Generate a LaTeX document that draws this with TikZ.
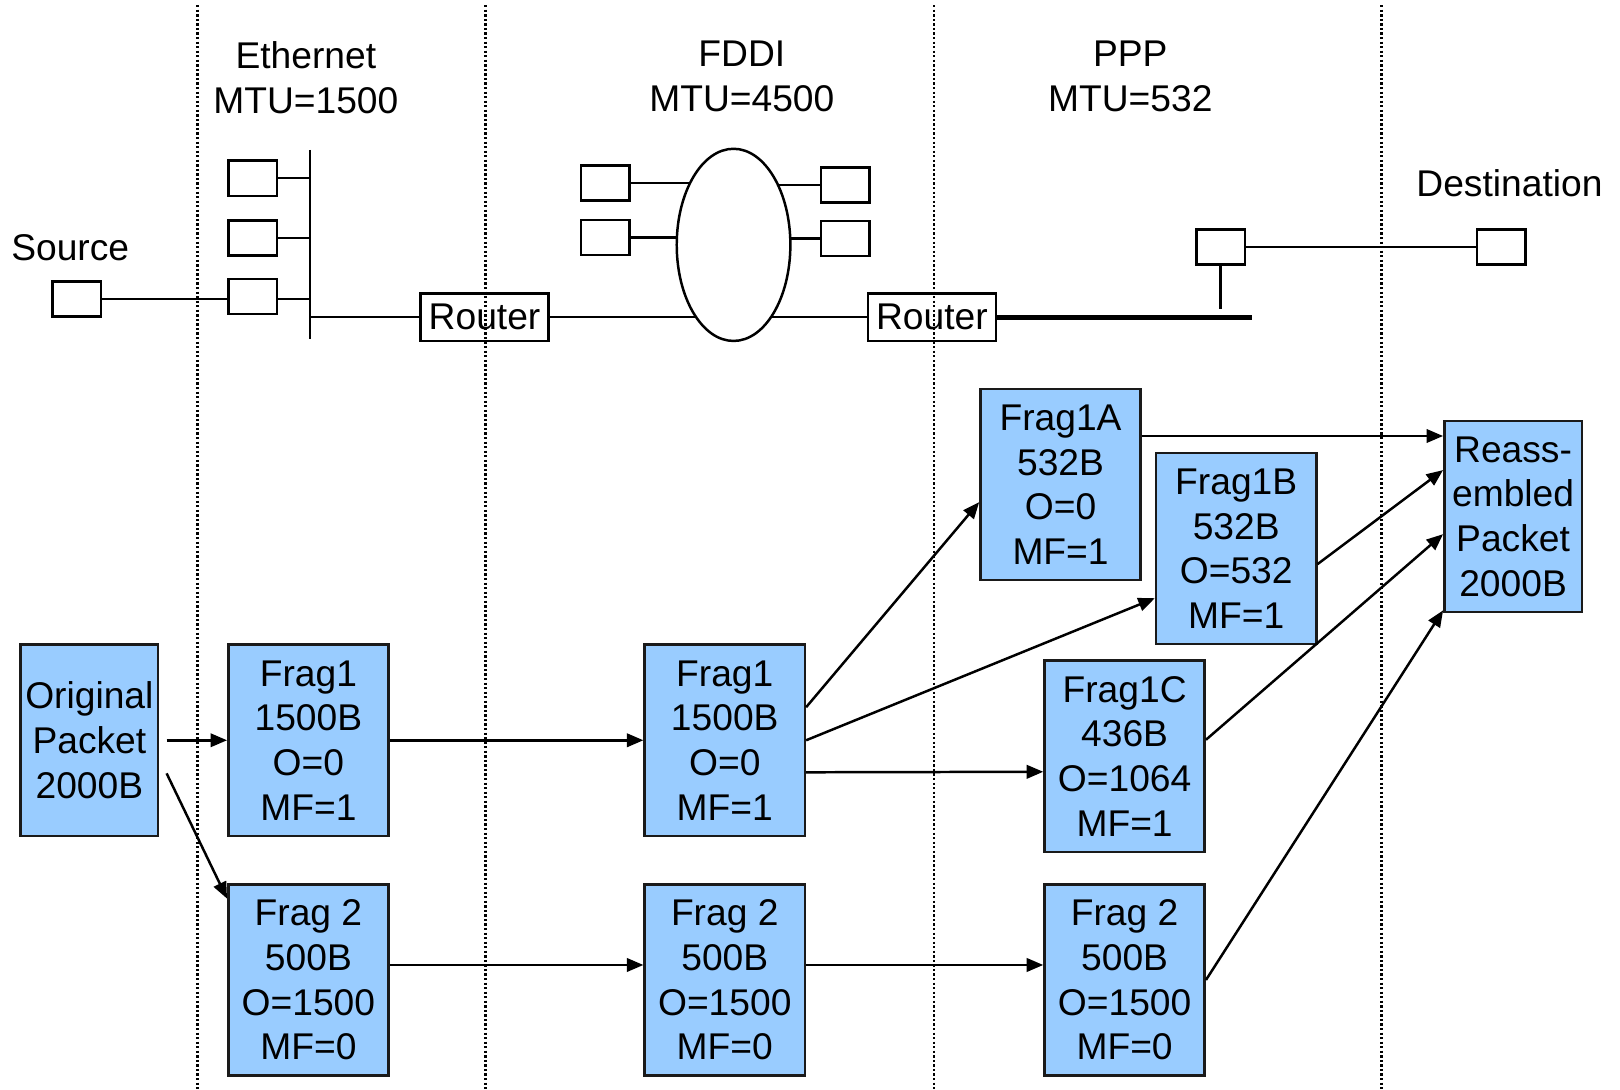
\documentclass[tikz,border=0pt]{standalone}
\usepackage{fontspec}
\setmainfont{Liberation Sans}
\usetikzlibrary{arrows.meta,shapes.geometric,backgrounds,calc}
\definecolor{pktblue}{HTML}{99CCFF}
\definecolor{edgecol}{HTML}{1A1A1A}
\begin{document}
\begin{tikzpicture}[x=0.5pt,y=-0.5pt,
  every node/.style={font=\fontsize{18}{21.6}\selectfont},
  pkt/.style={draw=edgecol,line width=1.25pt,fill=pktblue,minimum width=77.5pt,minimum height=92.5pt,inner sep=0pt,align=center},
  widepkt/.style={pkt,minimum width=66.5pt},
  dev/.style={draw=black,line width=1.2pt,fill=white,minimum width=23.5pt,minimum height=17pt,inner sep=0pt},
  router/.style={draw=black,line width=1.2pt,fill=white,minimum width=62pt,minimum height=23pt,inner sep=0pt},
  wire/.style={line width=1.2pt},
  conn/.style={line width=1.2pt,-{Triangle[length=8pt,width=6.5pt]}},
  boundary/.style={line width=1.2pt,dash pattern=on 1.1pt off 1.1pt},
  lbl/.style={align=center,inner sep=0pt}
]
\useasboundingbox (0,0) rectangle (1568,1055);

% titles
\node[lbl] (teth) at (296,75) {Ethernet\\MTU=1500};
\node[lbl] (tfddi) at (718,74) {FDDI\\MTU=4500};
\node[lbl] (tppp) at (1094,74) {PPP\\MTU=532};
\node[lbl] (tsrc) at (68,240) {Source};
\node[lbl] (tdst) at (1461,177) {Destination};

% network
\node[dev] (src) at (74.5,289.5) {};
\node[dev] (e1) at (244.5,172.5) {};
\node[dev] (e2) at (244.5,230.5) {};
\node[dev] (e3) at (244.5,287) {};
\coordinate (bustop) at (300,145);
\coordinate (busbot) at (300,328);
\node[router] (r1) at (469,307) {Router};
\node[draw,ellipse,line width=1.2pt,fill=white,minimum width=55pt,minimum height=93pt,inner sep=0pt] (ring) at (710,237) {};
\node[dev] (fl1) at (586,177) {};
\node[dev] (fl2) at (586,230) {};
\node[dev] (fr1) at (818,179) {};
\node[dev] (fr2) at (818,231) {};
\node[router] (r2) at (902,307) {Router};
\node[dev] (ppp) at (1181.5,239) {};
\coordinate (pppend) at (1212,307);
\coordinate (pppdrop) at (1181.5,299);
\node[dev] (dst) at (1453,239) {};

\draw[wire] (src.east) -- (src.east -| e3.west);
\draw[wire] (src.east -| e3.east) -- (src.east -| bustop);
\draw[wire] (e1.east) -- (e1.east -| bustop);
\draw[wire] (e2.east) -- (e2.east -| bustop);
\draw[wire] (bustop) -- (busbot);
\draw[wire] (r1.west -| bustop) -- (r1.west);
\begin{scope}[on background layer]
\draw[wire] (r1.east) -- (r1.east -| ring.center);
\draw[wire] (r2.west) -- (r2.west -| ring.center);
\draw[wire] (fl1.east) -- (fl1.east -| ring.center);
\draw[wire] (fl2.east) -- (fl2.east -| ring.center);
\draw[wire] (fr1.west) -- (fr1.west -| ring.center);
\draw[wire] (fr2.west) -- (fr2.west -| ring.center);
\end{scope}
\draw[line width=2.6pt] (r2.east) -- (pppend);
\draw[wire] (ppp.south) -- (pppdrop);
\draw[wire] (ppp.east) -- (dst.west);

% packets
\node[widepkt] (orig) at (86.5,716.5) {Original\\Packet\\2000B};
\node[pkt] (f1e) at (298.5,716.5) {Frag1\\1500B\\O=0\\MF=1};
\node[pkt] (f2e) at (298.5,948.5) {Frag 2\\500B\\O=1500\\MF=0};
\node[pkt] (f1f) at (701.5,716.5) {Frag1\\1500B\\O=0\\MF=1};
\node[pkt] (f2f) at (701.5,948.5) {Frag 2\\500B\\O=1500\\MF=0};
\node[pkt] (f1a) at (1026.5,469) {Frag1A\\532B\\O=0\\MF=1};
\node[pkt] (f1b) at (1196.5,531) {Frag1B\\532B\\O=532\\MF=1};
\node[pkt] (f1c) at (1088.5,732) {Frag1C\\436B\\O=1064\\MF=1};
\node[pkt] (f2p) at (1088.5,948.5) {Frag 2\\500B\\O=1500\\MF=0};
\node[widepkt] (reas) at (1464.5,500) {Reass-\\embled\\Packet\\2000B};

\draw[conn] ($(orig.east)+(7,0)$) -- (f1e.west);
\draw[conn] ($(orig.east)+(7,32)$) -- ($(f2e.north west)+(0,15)$);
\draw[conn] (f1e.east) -- (f1f.west);
\draw[conn] ($(f2e.east)+(0,-14.5)$) -- ($(f2f.west)+(0,-14.5)$);
\draw[conn] ($(f2f.east)+(0,-14.5)$) -- ($(f2p.west)+(0,-14.5)$);
\draw[conn] ($(f1f.east)+(0,-32)$) -- ($(f1a.west)+(0,17)$);
\draw[conn] (f1f.east) -- ($(f1b.west)+(0,48)$);
\draw[conn] ($(f1f.east)+(0,31)$) -- ($(f1c.west)+(0,15)$);
\draw[conn] ($(f1a.east)+(0,-47)$) -- ($(reas.west)+(0,-78)$);
\draw[conn] ($(f1b.east)+(0,15)$) -- ($(reas.west)+(0,-45)$);
\draw[conn] ($(f1c.east)+(0,-16)$) -- ($(reas.west)+(0,17)$);
\draw[conn] (f2p.east) -- ($(reas.south west)+(0,-3)$);

% section boundaries
\foreach \x/\n in {191/da,470/db,904/dc,1337/dd}{
  \coordinate (\n t) at (\x,5);
  \coordinate (\n b) at (\x,1055);
  \draw[boundary] (\n t) -- (\n b);
}
\end{tikzpicture}
\end{document}
